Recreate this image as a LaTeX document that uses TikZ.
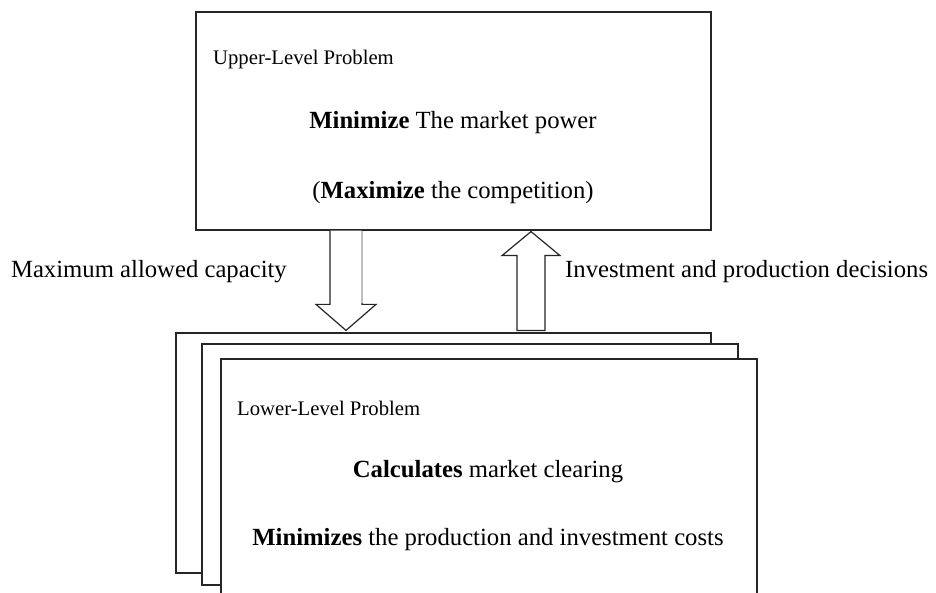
\documentclass[tikz,border=0pt]{standalone}
\usepackage{fontspec}
\setmainfont{Liberation Serif}
\usetikzlibrary{calc}

\tikzset{
  box/.style={draw=black!85, line width=1.2pt, fill=white, inner sep=0pt},
  bigtext/.style={font=\fontsize{24.7}{28}\selectfont, inner sep=0pt},
  smalltext/.style={font=\fontsize{20.7}{24}\selectfont, inner sep=0pt},
  blockarrow/.style={draw=black!85, line width=1.2pt, fill=white, line join=miter}
}

\begin{document}
\begin{tikzpicture}[x=1pt,y=-1pt]
  \clip (0,0) rectangle (936,593);
  \fill[white] (0,0) rectangle (936,593);

  % upper level
  \node[box, minimum width=515pt, minimum height=218pt] (upper) at (453.5,121) {};
  \node[smalltext, anchor=west] (uptitle) at (213,60) {Upper-Level Problem};
  \node[bigtext] (upgoal) at (453,123) {\textbf{Minimize} The market power};
  \node[bigtext] (upcomp) at (453,193) {(\textbf{Maximize} the competition)};

  % stack of lower level problems
  \node[box, minimum width=535pt, minimum height=240pt] (low1) at (443.5,453) {};
  \node[box, minimum width=536pt, minimum height=241pt] (low2) at (470,464.5) {};
  \node[box, minimum width=536pt, minimum height=280pt] (low3) at (489,499) {};
  \node[smalltext, anchor=west] (lowtitle) at (237,408) {Lower-Level Problem};
  \node[bigtext] (lowclear) at (488,472) {\textbf{Calculates} market clearing};
  \node[bigtext] (lowcost) at (488,540) {\textbf{Minimizes} the production and investment costs};

  % arrows between the levels
  \coordinate (dn) at (346,0);
  \coordinate (up) at (531,0);
  \draw[blockarrow] ($(dn |- upper.south)+(-16,0)$) -- ($(dn |- low1.north)+(-16,-28)$)
    -- ($(dn |- low1.north)+(-30,-28)$) -- ($(dn |- low1.north)+(0,-2)$)
    -- ($(dn |- low1.north)+(30,-28)$) -- ($(dn |- low1.north)+(16,-28)$)
    -- ($(dn |- upper.south)+(16,0)$);
  \draw[black!25, line width=1.2pt] ($(dn |- upper.south)+(16,0.6)$) -- ($(dn |- low1.north)+(16,-29)$);
  \draw[blockarrow] ($(up |- low1.north)+(-14,-2)$) -- ($(up |- upper.south)+(-14,25)$)
    -- ($(up |- upper.south)+(-29,25)$) -- ($(up |- upper.south)+(0,1)$)
    -- ($(up |- upper.south)+(29,25)$) -- ($(up |- upper.south)+(14,25)$)
    -- ($(up |- low1.north)+(14,-2)$) -- cycle;

  \node[bigtext, anchor=east] (capacity) at (287,272) {Maximum allowed capacity};
  \node[bigtext, anchor=west] (decisions) at (565,272) {Investment and production decisions};
\end{tikzpicture}
\end{document}
